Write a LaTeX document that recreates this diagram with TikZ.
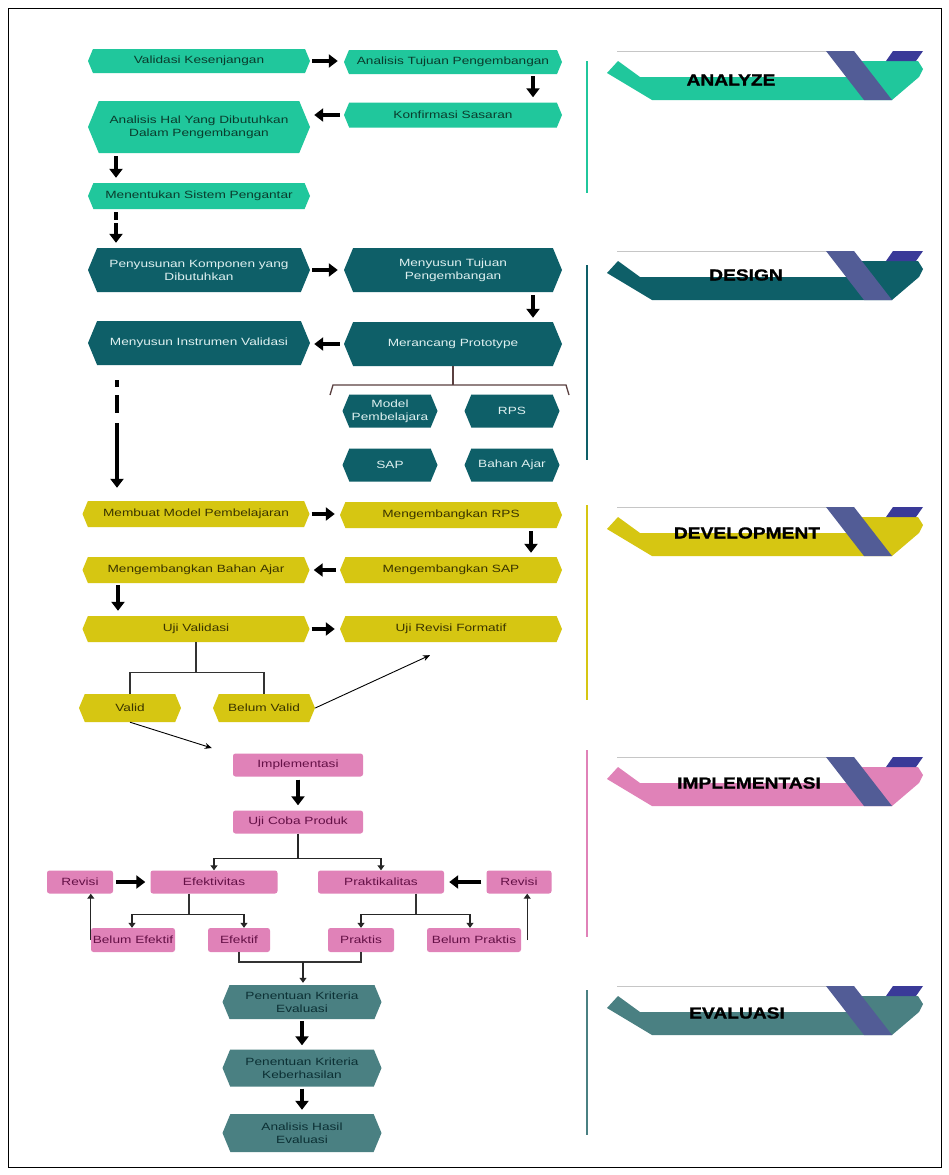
\documentclass[tikz,border=0pt]{standalone}
\usepackage{fontspec}
\setmainfont{Liberation Sans}[FakeStretch=1.3]
\newfontfamily\bannerfont{Liberation Sans Bold}[FakeStretch=1.2, FakeBold=1.2]
\usetikzlibrary{shapes.symbols,arrows.meta}
\definecolor{anzc}{RGB}{32,199,156}
\definecolor{anzt}{RGB}{10,60,45}
\definecolor{desc}{RGB}{14,95,104}
\definecolor{dest}{RGB}{222,240,240}
\definecolor{devc}{RGB}{214,198,18}
\definecolor{devt}{RGB}{58,52,0}
\definecolor{impc}{RGB}{224,130,184}
\definecolor{impt}{RGB}{100,16,70}
\definecolor{evac}{RGB}{74,128,130}
\definecolor{evat}{RGB}{12,48,52}
\definecolor{stripec}{RGB}{82,92,150}
\definecolor{topblue}{RGB}{58,58,152}
\definecolor{brkc}{RGB}{90,64,64}
\newcommand\nodefont{\fontsize{10.5}{13}\selectfont}
\newcommand\ribbon[6]{%
\begin{scope}[shift={(600,#1)}]
\draw[gray!45, line width=1pt] (17,11) -- (228,11);
\fill[#2] (7,33) -- (18,21) -- (40,37) -- (252,37) -- (257,21) -- (318,21) -- (323,29) -- (319,37) -- (292,60) -- (52,60) -- cycle;
\fill[stripec] (226,11) -- (254,11) -- (292,60) -- (264,60) -- cycle;
\fill[topblue] (293,11) -- (323,11) -- (316,21) -- (286,21) -- cycle;
\node[font=\bannerfont\fontsize{16}{18}\selectfont, text=black, inner sep=0pt] (#6) at (#4,#5) {#3};
\end{scope}}
\begin{document}
\begin{tikzpicture}[x=1pt,y=-1pt,
  box/.style={signal, signal to=west and east, signal pointer angle=135, inner sep=1pt, align=center, font=\nodefont, minimum height=24pt},
  anz/.style={box, fill=anzc, text=anzt},
  des/.style={box, fill=desc, text=dest},
  dev/.style={box, fill=devc, text=devt},
  eva/.style={box, fill=evac, text=evat},
  imp/.style={rectangle, rounded corners=2.5pt, fill=impc, text=impt, font=\nodefont, minimum height=23pt, inner sep=1pt},
  bigarrow/.style={line width=4.5pt, -{Triangle[width=13pt,length=9pt]}},
  thinarrow/.style={line width=1.2pt, draw=black!85, -{Triangle[width=7pt,length=5pt]}},
  slimarrow/.style={line width=0.9pt, -{Stealth[width=6pt,length=7pt]}},
  conn/.style={line width=1.2pt, draw=black!80},
  brk/.style={line width=1.3pt, draw=brkc},
  vline/.style={line width=2pt}]
\path[use as bounding box, fill=white] (0,0) rectangle (949,1175);
\draw[line width=1pt] (8,8) rectangle (941,1167);

% ---------------- ANALYZE
\node[anz, minimum width=222pt, minimum height=24pt] (a1) at (199,61) {Validasi Kesenjangan};
\node[anz, minimum width=218pt, minimum height=24pt] (a2) at (453,62) {Analisis Tujuan Pengembangan};
\node[anz, minimum width=218pt, minimum height=25pt] (a3) at (453,115) {Konfirmasi Sasaran};
\node[anz, minimum width=222pt, minimum height=52pt] (a4) at (199,127) {Analisis Hal Yang Dibutuhkan\\Dalam Pengembangan};
\node[anz, minimum width=222pt, minimum height=26pt] (a5) at (199,196) {Menentukan Sistem Pengantar};
\draw[bigarrow, shorten <=2pt, shorten >=6pt] (a1.east) -- (a1.east -| a2.west);
\draw[bigarrow, shorten <=2pt, shorten >=5pt] ([xshift=80pt]a2.south) -- ([xshift=80pt]a3.north);
\draw[bigarrow, shorten <=4pt, shorten >=4pt] (a3.west) -- (a3.west -| a4.east);
\draw[bigarrow, shorten <=3pt, shorten >=5pt] ([xshift=-83pt]a4.south) -- ([xshift=-83pt]a5.north);

% ---------------- DESIGN
\node[des, minimum width=222pt, minimum height=44pt] (d1) at (199,270) {Penyusunan Komponen yang\\Dibutuhkan};
\node[des, minimum width=218pt, minimum height=44pt] (d2) at (453,270) {Menyusun Tujuan\\Pengembangan};
\node[des, minimum width=222pt, minimum height=44pt] (d3) at (199,343) {Menyusun Instrumen Validasi};
\node[des, minimum width=218pt, minimum height=44pt] (d4) at (453,344) {Merancang Prototype};
\node[des, minimum width=95pt, minimum height=33pt] (s1) at (390,411) {Model\\Pembelajara};
\node[des, minimum width=95pt, minimum height=33pt] (s2) at (512,411) {RPS};
\node[des, minimum width=95pt, minimum height=33pt] (s3) at (390,465) {SAP};
\node[des, minimum width=95pt, minimum height=33pt] (s4) at (512,465) {Bahan Ajar};
\draw[bigarrow, dash pattern=on 8pt off 3pt on 60pt, shorten <=3pt, shorten >=5pt] ([xshift=-83pt]a5.south) -- ([xshift=-83pt]d1.north);
\draw[bigarrow, shorten <=2pt, shorten >=6pt] (d1.east) -- (d1.east -| d2.west);
\draw[bigarrow, shorten <=3pt, shorten >=4pt] ([xshift=80pt]d2.south) -- ([xshift=80pt]d4.north);
\draw[bigarrow, shorten <=4pt, shorten >=4pt] (d4.west) -- (d4.west -| d3.east);
\coordinate (bkl) at (330,395);
\coordinate (bkr) at (569,395);
\draw[brk] (d4.south) -- (d4.south |- 0,385);
\draw[brk] (bkl) -- ++(3,-10) -- ([xshift=-3pt,yshift=10pt]bkr) -- (bkr);

% ---------------- DEVELOPMENT
\node[dev, minimum width=227pt, minimum height=26pt] (v1) at (196,514) {Membuat Model Pembelajaran};
\node[dev, minimum width=222pt, minimum height=26pt] (v2) at (451,515) {Mengembangkan RPS};
\node[dev, minimum width=227pt, minimum height=26pt] (v3) at (196,570) {Mengembangkan Bahan Ajar};
\node[dev, minimum width=222pt, minimum height=26pt] (v4) at (451,570) {Mengembangkan SAP};
\node[dev, minimum width=227pt, minimum height=26pt] (v5) at (196,629) {Uji Validasi};
\node[dev, minimum width=222pt, minimum height=26pt] (v6) at (451,629) {Uji Revisi Formatif};
\node[dev, minimum width=102pt, minimum height=28pt] (v7) at (130,708) {Valid};
\node[dev, minimum width=102pt, minimum height=28pt] (v8) at (264,708) {Belum Valid};
\draw[bigarrow, dash pattern=on 7pt off 8pt on 18pt off 10pt on 90pt, shorten <=15pt, shorten >=13pt] ([xshift=-82pt]d3.south) -- ([xshift=-82pt]d3.south |- v1.north);
\draw[bigarrow, shorten <=2pt, shorten >=5pt] (v1.east) -- (v1.east -| v2.west);
\draw[bigarrow, shorten <=3pt, shorten >=4pt] ([xshift=80pt]v2.south) -- ([xshift=80pt]v4.north);
\draw[bigarrow, shorten <=4pt, shorten >=4pt] (v4.west) -- (v4.west -| v3.east);
\draw[bigarrow, shorten <=2pt, shorten >=5pt] ([xshift=-78pt]v3.south) -- ([xshift=-78pt]v5.north);
\draw[bigarrow, shorten <=2pt, shorten >=5pt] (v5.east) -- (v5.east -| v6.west);
\draw[conn] (v5.south) -- ++(0,30) -| (v7.north);
\draw[conn] (v5.south) ++(0,30) -| (v8.north);
\draw[slimarrow] (v8.east) -- ([xshift=-21pt,yshift=-13pt]v6.south);

% ---------------- IMPLEMENTASI
\node[imp, minimum width=130pt] (i1) at (298,765) {Implementasi};
\node[imp, minimum width=130pt] (i2) at (298,822) {Uji Coba Produk};
\node[imp, minimum width=127pt] (i3) at (214,882) {Efektivitas};
\node[imp, minimum width=126pt] (i4) at (381,882) {Praktikalitas};
\node[imp, minimum width=66pt] (i5) at (80,882) {Revisi};
\node[imp, minimum width=65pt] (i6) at (519,882) {Revisi};
\node[imp, minimum width=84pt, minimum height=24pt] (i7) at (133,940) {Belum Efektif};
\node[imp, minimum width=62pt, minimum height=24pt] (i8) at (239,940) {Efektif};
\node[imp, minimum width=66pt, minimum height=24pt] (i9) at (361,940) {Praktis};
\node[imp, minimum width=94pt, minimum height=24pt] (i10) at (474,940) {Belum Praktis};
\draw[slimarrow] (v7.south) -- ([xshift=-21pt,yshift=17pt]i1.west);
\draw[bigarrow, shorten <=3pt, shorten >=5pt] (i1.south) -- (i2.north);
\draw[thinarrow] (i2.south) -- ++(0,25) -| (i3.north);
\draw[thinarrow] (i2.south) ++(0,25) -| (i4.north);
\draw[bigarrow, shorten <=3pt, shorten >=5pt] (i5.east) -- (i3.west);
\draw[bigarrow, shorten <=5pt, shorten >=5pt] (i6.west) -- (i4.east);
\draw[conn] ([xshift=-25pt]i3.south) -- ++(0,21) coordinate (ef);
\draw[thinarrow] ([xshift=-57pt]ef) -- ([xshift=55pt]ef) -- ([xshift=55pt]ef |- i8.north);
\draw[thinarrow] (ef) -- ([xshift=-57pt]ef) -- ([xshift=-57pt]ef |- i7.north);
\draw[conn] ([xshift=35pt]i4.south) -- ++(0,21) coordinate (pk);
\draw[thinarrow] ([xshift=54pt]pk) -- ([xshift=-55pt]pk) -- ([xshift=-55pt]pk |- i9.north);
\draw[thinarrow] (pk) -- ([xshift=54pt]pk) -- ([xshift=54pt]pk |- i10.north);
\draw[thinarrow] (i7.west) -- (i7.west |- i5.south);
\draw[thinarrow] ([xshift=6pt]i10.east) -- ([xshift=6pt]i10.east |- i6.south);

% ---------------- EVALUASI
\node[eva, minimum width=159pt, minimum height=34pt] (e1) at (302,1002) {Penentuan Kriteria\\Evaluasi};
\node[eva, minimum width=159pt, minimum height=37pt] (e2) at (302,1068) {Penentuan Kriteria\\Keberhasilan};
\node[eva, minimum width=159pt, minimum height=38pt] (e3) at (302,1133) {Analisis Hasil\\Evaluasi};
\coordinate (mg) at (303,962);
\draw[conn] (i8.south) |- (mg) -| (i9.south);
\draw[thinarrow, shorten >=2pt] (mg) -- (mg |- e1.north);
\draw[bigarrow, shorten <=2pt, shorten >=4pt] (e1.south) -- (e2.north);
\draw[bigarrow, shorten <=2pt, shorten >=4pt] (e2.south) -- (e3.north);

% ---------------- RIGHT SIDE
\draw[vline, draw=anzc] (587,61) -- (587,193);
\draw[vline, draw=desc] (587,265) -- (587,460);
\draw[vline, draw=devc] (587,505) -- (587,700);
\draw[vline, draw=impc] (587,750) -- (587,937);
\draw[vline, draw=evac] (587,990) -- (587,1135);
\ribbon{40}{anzc}{ANALYZE}{131}{40}{banA}
\ribbon{240}{desc}{DESIGN}{146}{35}{banD}
\ribbon{496}{devc}{DEVELOPMENT}{147}{37}{banV}
\ribbon{746}{impc}{IMPLEMENTASI}{149}{37}{banI}
\ribbon{975}{evac}{EVALUASI}{137}{38}{banE}
\end{tikzpicture}
\end{document}
